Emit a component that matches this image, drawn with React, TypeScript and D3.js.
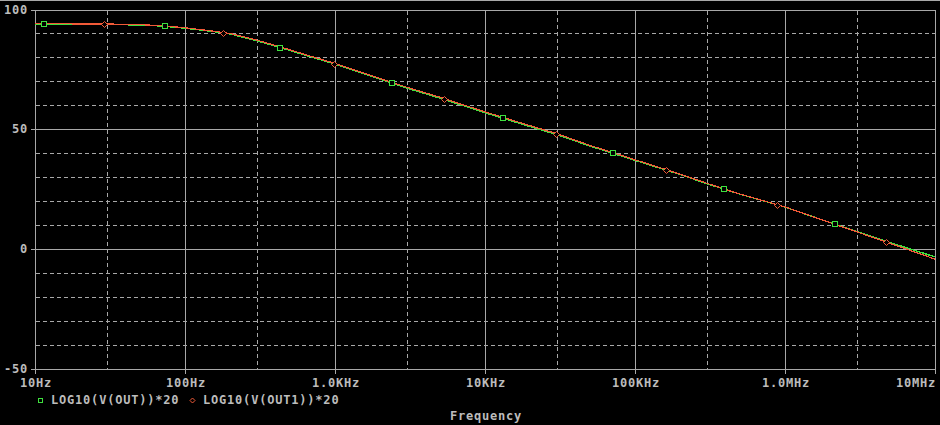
import React from "react";
import { scaleLog, scaleLinear, line as d3_line } from "d3";

// frequency grid (Hz) and the two traces in dB
const freqs = [
    10, 20, 30, 50, 70, 100, 150, 200, 300, 500, 700, 1e3, 2e3, 3e3, 5e3, 1e4, 2e4, 3e4, 5e4,
    1e5, 2e5, 3e5, 5e5, 1e6, 2e6, 3e6, 5e6, 1e7,
];
const outValues = [
    93.9, 93.8, 93.8, 93.5, 93.1, 92.2, 90.9, 89.8, 87.0, 82.9, 80.1, 77.2, 70.9, 67.2, 63.0, 56.9,
    51.1, 47.8, 43.0, 37.0, 31.1, 27.3, 22.9, 17.5, 11.0, 7.3, 2.7, -3.3,
];
const out1Values = [
    93.9, 93.8, 93.8, 93.5, 93.1, 92.2, 90.9, 89.8, 87.1, 83.0, 80.2, 77.3, 71.0, 67.4, 63.2, 57.1,
    51.3, 48.0, 43.1, 37.1, 31.1, 27.3, 22.8, 17.4, 10.8, 7.0, 2.2, -4.4,
];

// marker positions (Hz)
const outMarkers = [11.4, 74, 431, 2410, 13200, 71600, 392000, 2140000];
const out1Markers = [28.9, 179, 989, 5350, 29600, 161000, 885000, 4700000];

const xTicks = [10, 100, 1e3, 1e4, 1e5, 1e6, 1e7];
const xTickLabels = ["10Hz", "100Hz", "1.0KHz", "10KHz", "100KHz", "1.0MHz", "10MHz"];
const xDashed = [30, 300, 3e3, 3e4, 3e5, 3e6];
const yTicks = [100, 50, 0, -50];
const yDashed = [90, 80, 70, 60, 40, 30, 20, 10, -10, -20, -30, -40];

const seriesNames = ["LOG10(V(OUT))*20", "LOG10(V(OUT1))*20"];

const GRID = "#a8a8a8";
const TEXT = "#bcbcbc";
const GREEN = "#3ee03e";
const RED = "#f25a38";
const FONT = "'DejaVu Sans Mono', monospace";

export default function App() {
    const W = 940;
    const H = 425;

    const x = scaleLog().domain([10, 1e7]).range([35, 935]);
    const y = scaleLinear().domain([-50, 100]).range([368.7, 9.5]);

    const outAt = scaleLog().domain(freqs).range(outValues);
    const out1At = scaleLog().domain(freqs).range(out1Values);

    const px = (v: number) => Math.round(v) + 0.5;

    const line = d3_line<number>()
        .x((_, i) => x(freqs[i]))
        .y((d) => y(d));

    const left = px(x(10));
    const right = px(x(1e7));
    const top = px(y(100));
    const bottom = px(y(-50));

    const textStyle = {
        fontFamily: FONT,
        fontWeight: "bold" as const,
        fontSize: 12,
        letterSpacing: 0.8,
        fill: TEXT,
    };

    return (
        <svg
            width={W}
            height={H}
            style={{ position: "absolute", left: 0, top: 0, background: "#000" }}
        >
            <rect x={0} y={0} width={W} height={H} fill="#000" />
            <line x1={0} x2={W} y1={0.5} y2={0.5} stroke={GRID} />

            {/* dashed grid */}
            {yDashed.map((v) => (
                <line
                    key={"hy" + v}
                    x1={left}
                    x2={right}
                    y1={px(y(v))}
                    y2={px(y(v))}
                    stroke={GRID}
                    strokeDasharray="4,3"
                    shapeRendering="crispEdges"
                />
            ))}
            {xDashed.map((f) => (
                <line
                    key={"vx" + f}
                    x1={px(x(f))}
                    x2={px(x(f))}
                    y1={top}
                    y2={bottom}
                    stroke={GRID}
                    strokeDasharray="4,3"
                    shapeRendering="crispEdges"
                />
            ))}

            {/* solid grid + frame */}
            {yTicks.map((v) => (
                <g key={"y" + v}>
                    <line
                        x1={left - 5}
                        x2={right}
                        y1={px(y(v))}
                        y2={px(y(v))}
                        stroke={GRID}
                        shapeRendering="crispEdges"
                    />
                    <text
                        x={28}
                        y={y(v)}
                        textAnchor="end"
                        dominantBaseline="central"
                        style={textStyle}
                    >
                        {v}
                    </text>
                </g>
            ))}
            {xTicks.map((f, i) => (
                <g key={"x" + f}>
                    <line
                        x1={px(x(f))}
                        x2={px(x(f))}
                        y1={top}
                        y2={bottom + 4}
                        stroke={GRID}
                        shapeRendering="crispEdges"
                    />
                    <text
                        x={i === xTicks.length - 1 ? W - 4 : x(f) + 1}
                        y={387}
                        textAnchor={i === xTicks.length - 1 ? "end" : "middle"}
                        style={textStyle}
                    >
                        {xTickLabels[i]}
                    </text>
                </g>
            ))}

            {/* traces */}
            <path
                d={line(outValues) ?? ""}
                fill="none"
                stroke={GREEN}
                strokeWidth={1.4}
                shapeRendering="crispEdges"
            />
            <path
                d={line(out1Values) ?? ""}
                fill="none"
                stroke={RED}
                strokeWidth={1.2}
                shapeRendering="crispEdges"
                transform="translate(0,-0.4)"
            />

            {/* markers */}
            {outMarkers.map((f) => (
                <rect
                    key={"gm" + f}
                    x={Math.round(x(f)) - 2.5}
                    y={Math.round(y(outAt(f))) - 2.5}
                    width={5}
                    height={5}
                    fill="#000"
                    stroke={GREEN}
                    strokeWidth={1}
                    shapeRendering="crispEdges"
                />
            ))}
            {out1Markers.map((f) => {
                const cx = Math.round(x(f)) + 0.5;
                const cy = Math.round(y(out1At(f))) + 0.5;
                return (
                    <path
                        key={"rm" + f}
                        d={`M${cx},${cy - 3}L${cx + 3},${cy}L${cx},${cy + 3}L${cx - 3},${cy}Z`}
                        fill="#000"
                        stroke={RED}
                        strokeWidth={1}
                    />
                );
            })}

            {/* legend */}
            <rect x={38.5} y={398.5} width={4} height={4} fill="none" stroke={GREEN} shapeRendering="crispEdges" />
            <text x={51} y={404} style={textStyle}>
                {seriesNames[0]}
            </text>
            <path d="M192.5,398L195,400.5L192.5,403L190,400.5Z" fill="none" stroke={RED} />
            <text x={203} y={404} style={textStyle}>
                {seriesNames[1]}
            </text>

            <text x={486} y={420} textAnchor="middle" style={textStyle}>
                Frequency
            </text>
        </svg>
    );
}
